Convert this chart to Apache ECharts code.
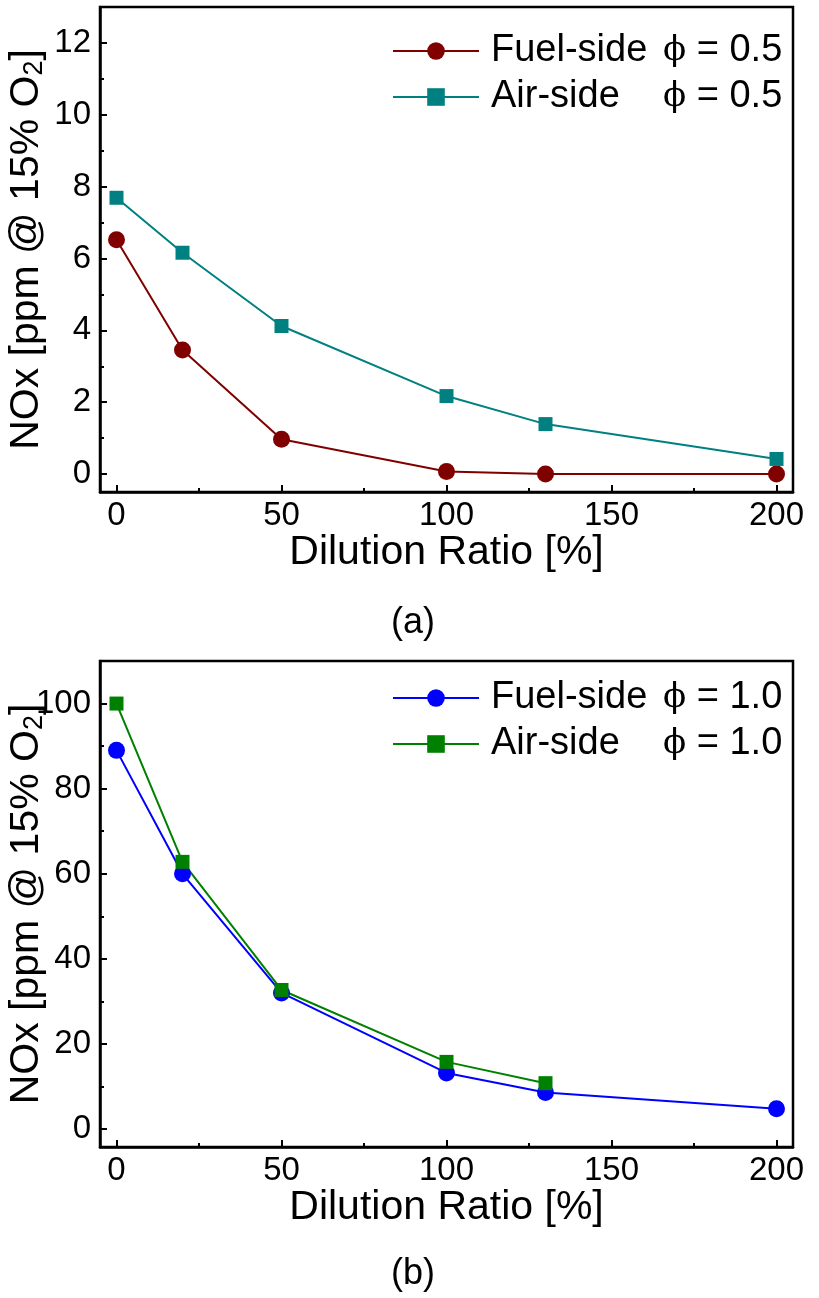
<!DOCTYPE html>
<html>
<head>
<meta charset="utf-8">
<script src="https://cdn.jsdelivr.net/npm/echarts@6/dist/echarts.min.js"></script>
<style>
  html, body { margin: 0; padding: 0; background: #fff; }
  #chart { width: 819px; height: 1298px; }
</style>
</head>
<body>
<div id="chart"></div>
<script>
// data
const dilution = [0, 20, 50, 100, 130, 200]
const dilutionAirB = [0, 20, 50, 100, 130]

const fuelA = [6.52, 3.45, 0.97, 0.07, 0, 0]
const airA = [7.69, 6.16, 4.12, 2.17, 1.39, 0.42]
const fuelB = [89, 60, 32, 13.2, 8.6, 4.8]
const airB = [100, 62.8, 32.7, 15.8, 10.8]

const xMajor = [0, 50, 100, 150, 200]
const xMinor = [25, 75, 125, 175]
const yMajorA = [0, 2, 4, 6, 8, 10, 12]
const yMinorA = [1, 3, 5, 7, 9, 11]
const yMajorB = [0, 20, 40, 60, 80, 100]
const yMinorB = [10, 30, 50, 70, 90]

const FONT = 'Arial, "Liberation Sans", sans-serif'

const pairs = (xs, ys) => ys.map((v, i) => [xs[i], v])

// main axis + a second one carrying only the short minor ticks
function xAxes(gridIndex) {
  return [
    {
      gridIndex, type: 'value', min: -5, max: 205,
      name: 'Dilution Ratio [%]', nameLocation: 'middle', nameGap: 40, nameMoveOverlap: false,
      nameTextStyle: { fontSize: 41, color: '#000', fontFamily: FONT },
      axisLine: { onZero: false, lineStyle: { color: '#000', width: 2.5 } },
      axisTick: { inside: true, length: 7, customValues: xMajor, lineStyle: { width: 2, color: '#000' } },
      axisLabel: { customValues: xMajor, fontSize: 33, color: '#000', fontFamily: FONT, margin: 7 },
      splitLine: { show: false }
    },
    {
      gridIndex, type: 'value', min: -5, max: 205, position: 'bottom',
      axisLine: { show: false, onZero: false },
      axisTick: { inside: true, length: 4, customValues: xMinor, lineStyle: { width: 2, color: '#000' } },
      axisLabel: { show: false },
      splitLine: { show: false }
    }
  ]
}

function yAxes(gridIndex, min, max, major, minor) {
  return [
    {
      gridIndex, type: 'value', min, max,
      name: '{t|NOx [ppm @ 15% O}{s|2}{t|]}', nameLocation: 'middle', nameGap: 52, nameMoveOverlap: false,
      nameTextStyle: {
        color: '#000', fontFamily: FONT,
        rich: {
          t: { fontSize: 41, fontFamily: FONT, color: '#000' },
          s: { fontSize: 27, fontFamily: FONT, color: '#000', verticalAlign: 'bottom', padding: [16, 0, 0, 0] }
        }
      },
      axisLine: { onZero: false, lineStyle: { color: '#000', width: 2.5 } },
      axisTick: { inside: true, length: 7, customValues: major, lineStyle: { width: 2, color: '#000' } },
      axisLabel: { customValues: major, fontSize: 33, color: '#000', fontFamily: FONT, margin: 9 },
      splitLine: { show: false }
    },
    {
      gridIndex, type: 'value', min, max, position: 'left',
      axisLine: { show: false, onZero: false },
      axisTick: { inside: true, length: 4, customValues: minor, lineStyle: { width: 2, color: '#000' } },
      axisLabel: { show: false },
      splitLine: { show: false }
    }
  ]
}

function lineSeries(name, xs, ys, color, symbol, size, axisIdx) {
  return {
    name, type: 'line', data: pairs(xs, ys),
    xAxisIndex: axisIdx, yAxisIndex: axisIdx,
    symbol, symbolSize: size, showSymbol: true,
    lineStyle: { color, width: 2 },
    itemStyle: { color, borderWidth: 0 },
    emphasis: { disabled: true },
    animation: false
  }
}

function legendFor(names, top) {
  return {
    data: names, orient: 'vertical', left: 392, top, padding: 0,
    itemWidth: 86, itemHeight: 22, itemGap: 8,
    formatter: n => {
      const parts = n.split(' ϕ')
      return '{n|' + parts[0] + '}{p|ϕ}{v|' + parts[1] + '}'
    },
    textStyle: {
      color: '#000', fontFamily: FONT, fontSize: 38,
      rich: {
        n: { fontSize: 38, fontFamily: FONT, width: 172, padding: [0, 0, 0, 7], lineHeight: 40 },
        p: { fontSize: 34, fontFamily: '"DejaVu Serif", serif', lineHeight: 40 },
        v: { fontSize: 38, fontFamily: FONT, lineHeight: 40 }
      }
    }
  }
}

const chart = echarts.init(document.getElementById('chart'))
chart.setOption({
  backgroundColor: '#fff',
  animation: false,
  grid: [
    { left: 100, top: 7, width: 693, height: 485, show: true, borderColor: '#000', borderWidth: 2.5, outerBoundsMode: 'none', containLabel: false },
    { left: 100, top: 661, width: 693, height: 486, show: true, borderColor: '#000', borderWidth: 2.5, outerBoundsMode: 'none', containLabel: false }
  ],
  xAxis: [...xAxes(0), ...xAxes(1)],
  yAxis: [...yAxes(0, -0.5, 13, yMajorA, yMinorA), ...yAxes(1, -4.2, 110, yMajorB, yMinorB)],
  legend: [
    legendFor(['Fuel-side ϕ = 0.5', 'Air-side ϕ = 0.5'], 32),
    legendFor(['Fuel-side ϕ = 1.0', 'Air-side ϕ = 1.0'], 679)
  ],
  series: [
    lineSeries('Fuel-side ϕ = 0.5', dilution, fuelA, '#800000', 'circle', 17, 0),
    lineSeries('Air-side ϕ = 0.5', dilution, airA, '#008080', 'rect', 14, 0),
    lineSeries('Fuel-side ϕ = 1.0', dilution, fuelB, '#0000ff', 'circle', 17, 2),
    lineSeries('Air-side ϕ = 1.0', dilutionAirB, airB, '#008000', 'rect', 14, 2)
  ],
  graphic: [
    { type: 'text', left: 391, top: 605, style: { text: '(a)', fontSize: 36, fontFamily: FONT, fill: '#000' } },
    { type: 'text', left: 391, top: 1256, style: { text: '(b)', fontSize: 36, fontFamily: FONT, fill: '#000' } }
  ]
})
</script>
</body>
</html>
